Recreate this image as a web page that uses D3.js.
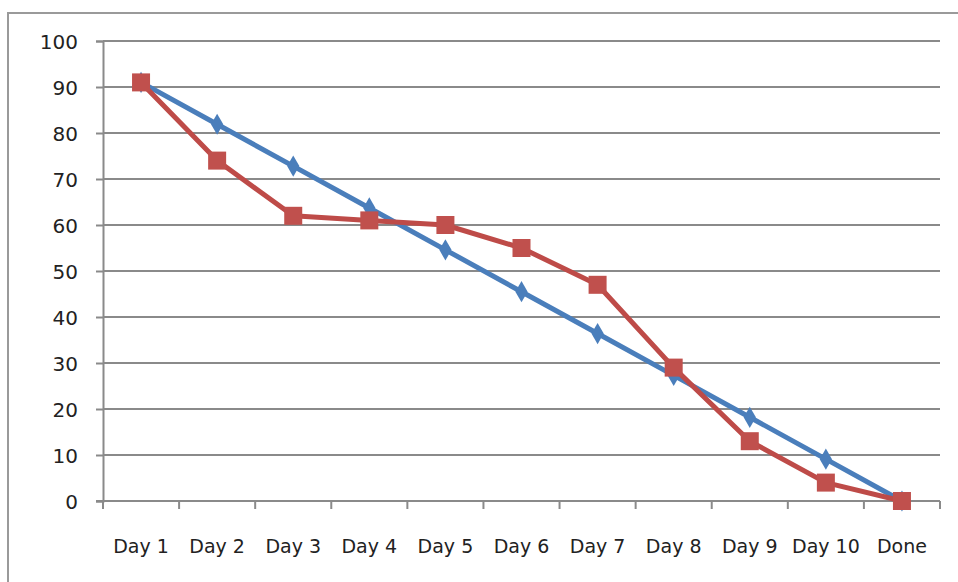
<!DOCTYPE html>
<html><head><meta charset="utf-8">
<script src="https://cdn.jsdelivr.net/npm/d3@7"></script>
<style>html,body{margin:0;padding:0;background:#fff;}svg{display:block;}</style>
</head><body>
<svg id="c" width="958" height="582"></svg>
<script>
const categories = ["Day 1","Day 2","Day 3","Day 4","Day 5","Day 6","Day 7","Day 8","Day 9","Day 10","Done"];
const idealValues = [91, 81.9, 72.8, 63.7, 54.6, 45.5, 36.4, 27.3, 18.2, 9.1, 0];
const actualValues = [91, 74, 62, 61, 60, 55, 47, 29, 13, 4, 0];
const yTicks = [0,10,20,30,40,50,60,70,80,90,100];

(function(){
const svg = d3.select("#c");
const pl = 103, pr = 940, pt = 41, pb = 501;
const font = "'DejaVu Sans', Verdana, sans-serif";

// outer border
svg.append("line").attr("x1",8).attr("x2",8).attr("y1",12).attr("y2",582).attr("stroke","#9a9a9a").attr("stroke-width",2);
svg.append("line").attr("x1",7).attr("x2",958).attr("y1",13).attr("y2",13).attr("stroke","#9a9a9a").attr("stroke-width",2);

const x = d3.scaleBand().domain(categories).range([pl,pr]);
const y = d3.scaleLinear().domain([0,100]).range([pb,pt]);

// gridlines
svg.append("g").selectAll("line").data(yTicks.filter(d=>d>0)).join("line")
  .attr("x1",pl).attr("x2",pr).attr("y1",d=>y(d)).attr("y2",d=>y(d))
  .attr("stroke","#8a8a8a").attr("stroke-width",2);

// y axis
const yAxis = svg.append("g").attr("transform",`translate(${pl},0)`)
  .call(d3.axisLeft(y).tickValues(yTicks).tickSize(7).tickPadding(18));
yAxis.select(".domain").attr("stroke","#8a8a8a").attr("stroke-width",2);
yAxis.selectAll(".tick line").attr("stroke","#8a8a8a").attr("stroke-width",2);
yAxis.selectAll("text").attr("font-family",font).attr("font-size",20).attr("fill","#222").attr("dy","0.38em");

// x axis
const xAxis = svg.append("g").attr("transform",`translate(0,${pb})`)
  .call(d3.axisBottom(x).tickSize(0).tickPadding(0));
xAxis.select(".domain").attr("stroke","#8a8a8a").attr("stroke-width",2).attr("d",`M${pl-7},0H${pr}`);
xAxis.selectAll("text").attr("font-family",font).attr("font-size",19).attr("fill","#222").attr("dy",null).attr("y",52);
// boundary ticks
const bounds = categories.map(c=>x(c)).concat([pr]);
svg.append("g").selectAll("line").data(bounds).join("line")
  .attr("x1",d=>d).attr("x2",d=>d).attr("y1",pb).attr("y2",pb+8)
  .attr("stroke","#8a8a8a").attr("stroke-width",2);

const cx = c => x(c) + x.bandwidth()/2;
const line = d3.line().x((d,i)=>cx(categories[i])).y(d=>y(d));

// ideal (blue)
svg.append("path").datum(idealValues).attr("d",line).attr("fill","none")
  .attr("stroke","#4a7ebb").attr("stroke-width",5).attr("stroke-linejoin","round");
svg.append("g").selectAll("path").data(idealValues).join("path")
  .attr("d",d3.symbol(d3.symbolDiamond,130)())
  .attr("transform",(d,i)=>`translate(${cx(categories[i])},${y(d)})`)
  .attr("fill","#4a7ebb");

// actual (red)
svg.append("path").datum(actualValues).attr("d",line).attr("fill","none")
  .attr("stroke","#be4b48").attr("stroke-width",5).attr("stroke-linejoin","round");
svg.append("g").selectAll("rect").data(actualValues).join("rect")
  .attr("x",(d,i)=>cx(categories[i])-9).attr("y",d=>y(d)-9)
  .attr("width",18).attr("height",18).attr("fill","#c0504d");
})();
</script>
</body></html>
